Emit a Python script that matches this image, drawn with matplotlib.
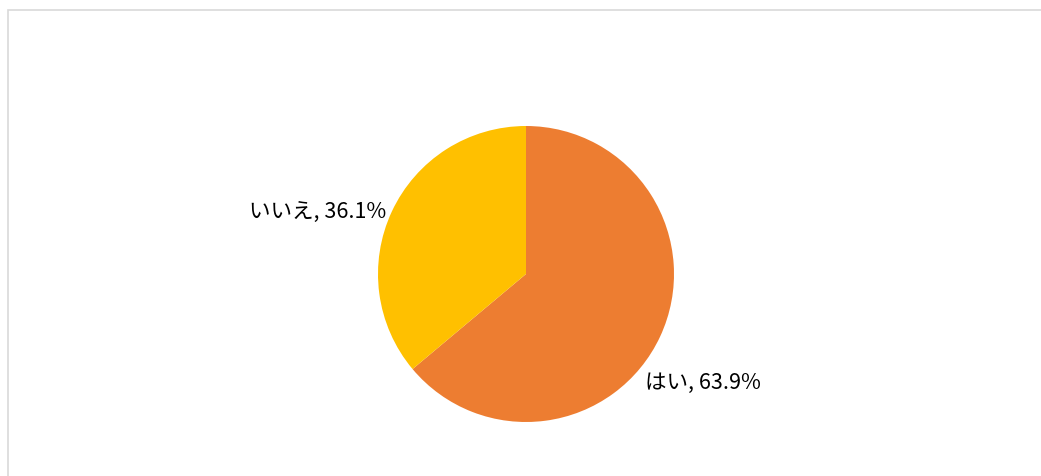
import matplotlib
matplotlib.use('Agg')
from matplotlib import pyplot as plt
from matplotlib.patches import Rectangle

plt.rcParams['font.family'] = ['Noto Sans CJK JP', 'DejaVu Sans']

labels = ['はい', 'いいえ']
values = [63.9, 36.1]
colors = ['#ED7D31', '#FFC000']

fig = plt.figure(figsize=(10.41, 4.77), dpi=100)

# light grey frame (chart area border, cut off at right and bottom)
fig.patches.append(Rectangle((8 / 1041, -0.1), 1.2, (477 - 11) / 477 + 0.1,
                             transform=fig.transFigure, fill=False,
                             edgecolor='#D9D9D9', linewidth=1.2))

# pie: center (526, 275), radius 148 px
r = 148
cx, cy = 526, 275
ax = fig.add_axes([(cx - r) / 1041, (477 - cy - r) / 477, 2 * r / 1041, 2 * r / 477])
ax.pie(values, colors=colors, startangle=90, counterclock=False,
       wedgeprops=dict(linewidth=0))
ax.set_xlim(-1, 1)
ax.set_ylim(-1, 1)
ax.set_aspect('equal')
ax.axis('off')

# data labels
fig.text(645 / 1041, 1 - 383 / 477, f'{labels[0]}, {values[0]}%',
         ha='left', va='center', fontsize=15.5)
fig.text(386 / 1041, 1 - 213 / 477, f'{labels[1]}, {values[1]}%',
         ha='right', va='center', fontsize=15.5)

fig.savefig('out.png', dpi=100)
